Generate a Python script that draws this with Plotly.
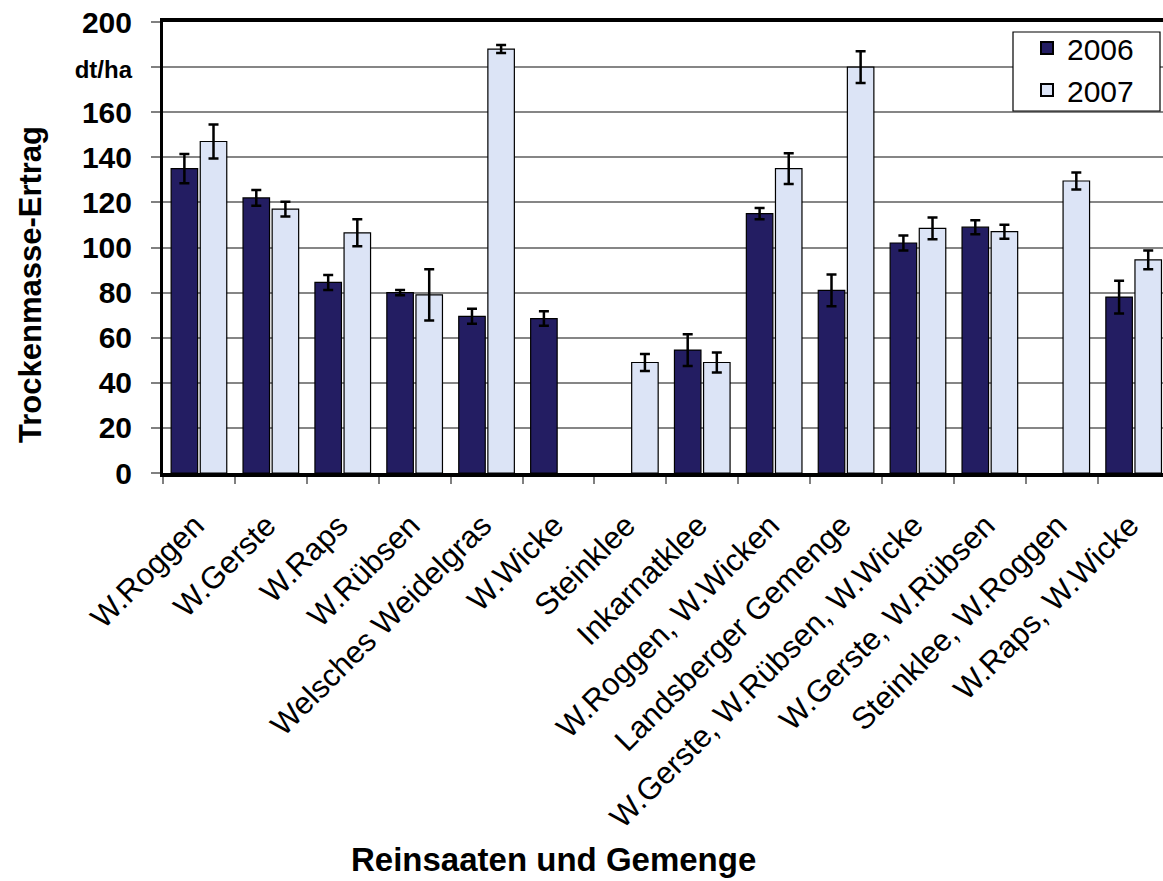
import plotly.graph_objects as go

categories = ["W.Roggen", "W.Gerste", "W.Raps", "W.Rübsen", "Welsches Weidelgras",
              "W.Wicke", "Steinklee", "Inkarnatklee", "W.Roggen, W.Wicken",
              "Landsberger Gemenge", "W.Gerste, W.Rübsen, W.Wicke",
              "W.Gerste, W.Rübsen", "Steinklee, W.Roggen", "W.Raps, W.Wicke"]
y2006 = [135, 122, 84.5, 80, 69.5, 68.5, None, 54.5, 115, 81, 102, 109, None, 78]
err2006 = [6.5, 3.5, 3.3, 1.2, 3.3, 3.2, None, 7, 2.5, 7, 3.3, 3.1, None, 7.3]
y2007 = [147, 117, 106.5, 79, 188, None, 49, 49, 135, 180, 108.5, 107, 129.5, 94.5]
err2007 = [7.5, 3.3, 6, 11.4, 1.8, None, 3.8, 4.4, 6.8, 7, 4.8, 3.1, 3.8, 4.2]
ytickvals = [0, 20, 40, 60, 80, 100, 120, 140, 160, 180, 200]
yticktext = ["0", "20", "40", "60", "80", "100", "120", "140", "160",
             "<span style='font-size:24px'>dt/ha</span>", "200"]

FONT = "Liberation Sans, Arial, sans-serif"

fig = go.Figure()
fig.add_trace(go.Bar(
    name="2006", x=categories, y=y2006,
    marker=dict(color="#231D62", line=dict(color="black", width=1.2)),
    error_y=dict(type="data", array=err2006, visible=True, color="black",
                 thickness=2.5, width=5),
))
fig.add_trace(go.Bar(
    name="2007", x=categories, y=y2007,
    marker=dict(color="#DCE4F6", line=dict(color="black", width=1.2)),
    error_y=dict(type="data", array=err2007, visible=True, color="black",
                 thickness=2.5, width=5),
))

fig.update_layout(
    width=1163, height=881,
    margin=dict(l=163, r=0, t=22, b=408, autoexpand=False),
    paper_bgcolor="white", plot_bgcolor="white",
    font=dict(family=FONT, color="black"),
    barmode="group", bargap=0.19, bargroupgap=0.09,
    showlegend=True,
    legend=dict(x=0.864, y=1.0, xanchor="left", yanchor="top",
                bgcolor="rgba(0,0,0,0)", borderwidth=0,
                font=dict(size=30, family=FONT), tracegroupgap=0,
                itemsizing="constant"),
)

fig.update_xaxes(
    range=[-0.5, 13.408], type="category",
    showline=True, linecolor="black", linewidth=4, mirror=True,
    ticks="outside", ticklen=7, tickwidth=2, tickcolor="#808080",
    tickson="boundaries", tickangle=-45,
    tickfont=dict(size=31, family=FONT, color="black"),
    ticklabelstandoff=18, ticklabelshift=-4,
    showgrid=False,
)
fig.update_yaxes(
    range=[0, 200], tickvals=ytickvals, ticktext=yticktext,
    showline=True, linecolor="black", linewidth=3,
    ticks="outside", ticklen=9, tickwidth=2, tickcolor="#808080",
    tickfont=dict(size=30, family=FONT, color="black", weight="bold"),
    ticklabelstandoff=13,
    showgrid=True, gridcolor="#868686", gridwidth=2,
    zeroline=False,
)

# legend frame
fig.add_shape(type="rect", xref="paper", yref="paper",
              x0=(1013 - 163) / 1000, x1=(1160 - 163) / 1000,
              y0=(473 - 111) / 451, y1=(473 - 32) / 451,
              line=dict(color="black", width=1.2), fillcolor="white", layer="above")

fig.add_annotation(text="Trockenmasse-Ertrag", xref="paper", yref="paper",
                   x=(30 - 163) / 1000, y=(473 - 285) / 451, textangle=-90,
                   showarrow=False, xanchor="center", yanchor="middle",
                   font=dict(size=31, family=FONT, weight="bold"))
fig.add_annotation(text="Reinsaaten und Gemenge", xref="paper", yref="paper",
                   x=(553 - 163) / 1000, y=(473 - 860) / 451,
                   showarrow=False, xanchor="center", yanchor="middle",
                   font=dict(size=33, family=FONT, weight="bold"))

fig.write_html("out.html")
